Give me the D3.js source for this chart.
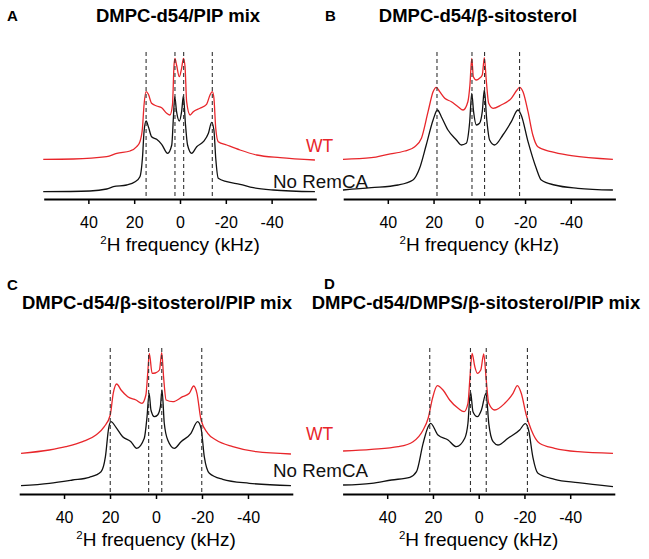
<!DOCTYPE html>
<html lang="en">
<head>
    <meta charset="UTF-8">
    <title>2H NMR spectra</title>
    <script src="https://d3js.org/d3.v7.min.js"></script>
    <style>
        body { margin: 0; background: #fff; }
        text { font-family: 'Liberation Sans', Arial, sans-serif; }
    </style>
</head>
<body>
    <div id="chart"></div>
    <script>
        // tick labels shared by all four panels (kHz)
        const tickVals = [40, 20, 0, -20, -40];
        const letters = ['A', 'B', 'C', 'D'];
        const titles = [
            'DMPC-d54/PIP mix',
            'DMPC-d54/\u03b2-sitosterol',
            'DMPC-d54/\u03b2-sitosterol/PIP mix',
            'DMPC-d54/DMPS/\u03b2-sitosterol/PIP mix'
        ];

        // [kHz, intensity]
        const wtA = [[59.7,39.7],[46.6,40],[32,42.3],[27.6,45.7],[21.8,48],[18.9,52.3],[17.5,57.3],[16.4,70.7],[15.7,94],[14.8,107.3],[13.8,104.7],[12.4,95.7],[10.2,93],[8,91.3],[5.8,85.7],[4.4,84],[3.3,94],[2.6,134],[2.2,140.7],[1.5,134],[0.3,122.3],[-0.7,130.7],[-1.5,140.7],[-2.2,132.3],[-2.9,97.3],[-4.4,84],[-5.8,87.3],[-8.7,90.7],[-11.6,94.7],[-13.1,104],[-14.1,107.3],[-14.8,101],[-15.6,70.7],[-16.7,57.3],[-20.4,54],[-26.2,49],[-33.5,44],[-43.7,41.3],[-58.9,39]];
        const noA = [[59.7,7.3],[39.3,8],[32,10],[29.1,12.3],[23.3,14],[19.6,17.3],[17.5,22.3],[16.3,44],[15.7,67.3],[14.8,78],[13.8,72.3],[12.4,62.3],[10.2,59.7],[8,54.7],[5.4,45.7],[3.6,54],[2.9,80.7],[2.3,102.3],[1.5,87.3],[0.3,78],[-0.7,87.3],[-1.5,103.3],[-2.3,77.3],[-3.3,54],[-5.1,45.7],[-7.3,52.3],[-10.2,57.3],[-12.4,65.7],[-13.8,76.7],[-14.8,69],[-15.6,40.7],[-16.7,20.7],[-20.4,17.3],[-26.2,14.7],[-32,11.3],[-40.7,9],[-58.9,7.3]];
        const dashA = [14.8, 2.2, -1.6, -14.1];

        const wtB = [[59.6,39.7],[47.2,41.3],[39.9,44.7],[32.6,48],[28.2,52.3],[25.3,60.7],[22.4,87.3],[20.2,107.3],[18.8,111.7],[17.3,107.3],[15.1,100.7],[12.2,97.3],[9.3,92.3],[7.1,89],[5,97.3],[4.1,114],[3.3,140.7],[2.6,122.3],[1.3,119],[-0.1,120.7],[-1.3,124],[-2.2,141.3],[-3.1,117.3],[-4.1,95.7],[-6,90.7],[-9.6,94],[-14,100.7],[-16.5,109],[-17.6,111.7],[-19.1,107.3],[-21.3,87.3],[-23.4,64],[-25.6,52.3],[-31.4,47.3],[-40.2,43.3],[-58.4,39.7]];
        const noB = [[59.6,9],[47.2,11.3],[35.5,14],[29,19],[26.1,30.7],[23.2,54],[20.2,79],[18.3,89],[16.6,82.3],[13.7,69],[10,59],[7.9,54],[5.7,55.7],[4.2,77.3],[3.3,105.7],[2.5,87.3],[1.3,74],[-0.1,75.7],[-1.3,87.3],[-2.2,109],[-3.2,80.7],[-4.5,59],[-6.7,54],[-10.3,64],[-14,77.3],[-16.9,89],[-18.3,84],[-21.3,57.3],[-24.9,30.7],[-27.1,19],[-32.9,14],[-43.1,10.7],[-58.4,9]];
        const dashB = [18.5, 3.2, -2.3, -17.6];

        const wtC = [[58.7,40.7],[46.4,44],[39.2,47.3],[31.9,52.3],[26.1,59],[22.5,67.3],[19.9,79],[18.6,100.7],[17.1,110],[15.2,104],[12.3,97.3],[8.7,94],[6.1,90.7],[4.4,99],[3.6,120.7],[2.9,140.7],[1.7,120.7],[0.3,121],[-1.5,124],[-2.5,141.3],[-3.3,117],[-4.4,94],[-7.3,92.3],[-11.6,97.3],[-14.5,100.7],[-16.4,108],[-17.8,100.7],[-19.6,74],[-22.5,60.7],[-26.1,54],[-33.4,47.3],[-43.5,42.3],[-58.7,40]];
        const noC = [[58.7,8.3],[46.4,10.7],[36.3,14],[29,16.7],[23.9,22.3],[22,37.3],[20.6,65.7],[19.6,72.3],[17.4,66.7],[14.5,57.3],[10.9,52.3],[8.4,45.7],[5.1,55.7],[3.9,77.3],[3,100.7],[2.2,84],[0.7,77.3],[-0.7,79],[-1.9,87.3],[-2.6,104],[-3.6,70.7],[-5.1,54],[-8,45.7],[-10.9,52.3],[-15.2,60.7],[-18.1,72.3],[-19.6,65.7],[-21,37.3],[-23.2,20.7],[-29,14.7],[-40.6,10.7],[-58.7,8.3]];
        const dashC = [19.9, 3.2, -2.5, -19.9];

        const wtD = [[59.3,43],[46.9,44.7],[35.2,47.3],[28.7,52.3],[24.3,64],[22.1,75.7],[20.2,95.7],[18.1,108.3],[15.6,104],[12.7,94],[9,85.7],[6.4,82.3],[4.7,90.7],[3.8,117.3],[2.9,140.7],[1.7,127.3],[0.6,120.7],[-0.9,124],[-2.2,140],[-3.3,114],[-4.4,90.7],[-7,84],[-11.4,90.7],[-15,100.7],[-16.9,108.3],[-18.6,100.7],[-20.8,79],[-23,64],[-26.6,50.7],[-33.2,45.7],[-43.4,42.3],[-58.7,40.7]];
        const noD = [[59.3,9],[46.9,10.7],[38.1,14],[30.1,16.7],[27.2,22.3],[24.3,50.7],[22.1,67.3],[21,70.7],[17.8,59],[13.4,54],[9.8,47.3],[6.1,55.7],[4.7,70.7],[3.6,102.3],[2.5,82.3],[0.6,77.3],[-1.2,84],[-3.2,100.7],[-4.4,70.7],[-6.3,52.3],[-8.4,49],[-12.8,55.7],[-17.9,64],[-20.4,70.3],[-21.8,64],[-23.7,36.7],[-25.9,20.7],[-33.2,14.7],[-43.4,11.3],[-58.7,7.3]];
        const dashD = [21.4, 3.6, -3.3, -21.3];

        const svg = d3.select('#chart')
            .append('svg')
                .attr('width', 649)
                .attr('height', 559);

        // layout of each panel
        const panels = [
            {wt: wtA, no: noA, dash: dashA, x0: 43.7, x1: 316.3, axisY: 199, dashTop: 52, titleX: 178, titleY: 22, letterX: 7, letterY: 21},
            {wt: wtB, no: noB, dash: dashB, x0: 343.2, x1: 615.4, axisY: 199, dashTop: 52, titleX: 478, titleY: 22, letterX: 325, letterY: 21},
            {wt: wtC, no: noC, dash: dashC, x0: 19.2, x1: 292.8, axisY: 494, dashTop: 348, titleX: 157, titleY: 309, letterX: 7, letterY: 290},
            {wt: wtD, no: noD, dash: dashD, x0: 342.6, x1: 614.8, axisY: 494, dashTop: 348, titleX: 476, titleY: 309, letterX: 324, letterY: 289}
        ];

        panels.forEach((p, i) => {
            const x = d3.scaleLinear()
                .domain([59.5, -59.5])
                .range([p.x0, p.x1]);
            const y = d3.scaleLinear()
                .domain([0, 150])
                .range([p.axisY, p.axisY - 150]);

            const g = svg.append('g');

            // X axis
            const ax = g.append('g')
                .attr('transform', `translate(0, ${p.axisY})`)
                .call(d3.axisBottom(x)
                    .tickValues(tickVals)
                    .tickSize(5)
                    .tickSizeOuter(0)
                    .tickPadding(13)
                    .tickFormat(d => String(d)));
            ax.select('.domain').attr('stroke-width', 2.2);
            ax.selectAll('.tick line').attr('stroke-width', 1.5);
            ax.selectAll('.tick text')
                .attr('font-size', 16)
                .attr('font-family', "'Liberation Sans', Arial, sans-serif");

            const line = d3.line()
                .x(d => x(d[0]))
                .y(d => y(d[1]))
                .curve(d3.curveMonotoneX);

            g.append('path')
                .datum(p.no)
                .attr('d', line)
                .attr('fill', 'none')
                .attr('stroke', '#111')
                .attr('stroke-width', 1.3);

            g.append('path')
                .datum(p.wt)
                .attr('d', line)
                .attr('fill', 'none')
                .attr('stroke', '#e8262b')
                .attr('stroke-width', 1.3);

            g.selectAll('.dash')
                .data(p.dash)
                .join('line')
                    .attr('x1', d => x(d))
                    .attr('x2', d => x(d))
                    .attr('y1', p.dashTop)
                    .attr('y2', p.axisY - 1)
                    .attr('stroke', '#333')
                    .attr('stroke-width', 1.1)
                    .attr('stroke-dasharray', '4,3');

            // axis title
            const t = g.append('text')
                .attr('x', (p.x0 + p.x1) / 2)
                .attr('y', p.axisY + 52)
                .attr('text-anchor', 'middle')
                .attr('font-size', 19);
            t.append('tspan').attr('font-size', 11.5).attr('dy', -7.5).text('2');
            t.append('tspan').attr('dy', 7.5).text('H frequency (kHz)');

            g.append('text')
                .attr('x', p.titleX)
                .attr('y', p.titleY)
                .attr('text-anchor', 'middle')
                .attr('font-weight', 'bold')
                .attr('font-size', 18.5)
                .text(titles[i]);

            g.append('text')
                .attr('x', p.letterX)
                .attr('y', p.letterY)
                .attr('font-weight', 'bold')
                .attr('font-size', 15)
                .text(letters[i]);
        });

        // series labels between the panels
        [152, 440].forEach(yy => {
            svg.append('text')
                .attr('x', 306).attr('y', yy)
                .attr('font-size', 17.5)
                .attr('fill', '#e8262b')
                .text('WT');
        });
        [188, 477].forEach(yy => {
            svg.append('text')
                .attr('x', 273).attr('y', yy)
                .attr('font-size', 18.8)
                .attr('fill', '#111')
                .text('No RemCA');
        });
    </script>
</body>
</html>
